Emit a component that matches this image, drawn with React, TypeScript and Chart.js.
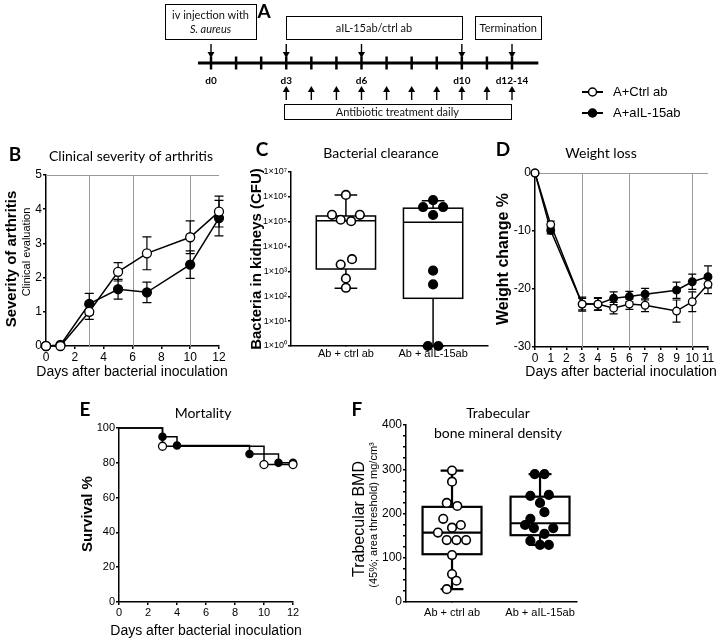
import React, { useEffect, useRef } from 'react';
import { Chart, registerables } from 'chart.js';
Chart.register(...registerables);

const W = 720;
const H = 640;
const SANS = '"Liberation Sans", Arial, sans-serif';

// ---------- Panel A (timeline) ----------
const timelineDays = [0, 1, 2, 3, 4, 5, 6, 7, 8, 9, 10, 11, 12];
const timelineLabels = ['d0', '', '', 'd3', '', '', 'd6', '', '', '', 'd10', '', 'd12-14'];
const downArrowDays = [0, 3, 6, 10, 12];
const antibioticDays = [3, 4, 5, 6, 7, 8, 9, 10, 11, 12];
const legendLabels = ['A+Ctrl ab', 'A+aIL-15ab'];

// ---------- Panel B (clinical severity) ----------
const bDays = [0, 1, 3, 5, 7, 10, 12];
const bCtrl = [0, 0, 1.0, 2.17, 2.71, 3.18, 3.93];
const bCtrlErr = [0, 0, 0.22, 0.27, 0.48, 0.48, 0.45];
const bAil = [0, 0.03, 1.23, 1.66, 1.57, 2.38, 3.74];
const bAilErr = [0, 0, 0.31, 0.29, 0.3, 0.4, 0.52];
const bRefX = [3, 6, 10];
const bRefY = [5];

// ---------- Panel C (bacterial clearance, log) ----------
const cCats = ['Ab + ctrl ab', 'Ab + aIL-15ab'];
const cTicks = [1, 1e1, 1e2, 1e3, 1e4, 1e5, 1e6, 1e7];
const cCtrl = [1.2e6, 1.9e5, 1.2e5, 1.05e5, 1.9e5, 3.1e3, 1.9e3, 5.2e2, 2.2e2];
const cCtrlJitter = [0, -0.16, -0.06, 0.06, 0.16, 0.07, -0.06, 0, 0];
const cAil = [7.4e5, 3.9e5, 3.9e5, 1.86e5, 1.07e3, 3.0e2, 1, 1];
const cAilJitter = [0, -0.115, 0.115, 0, 0, 0, -0.06, 0.06];
const cBoxMin = [2.1e2, 1];
const cBoxQ1 = [1.25e3, 83];
const cBoxMed = [1.1e5, 9.5e4];
const cBoxQ3 = [1.7e5, 3.5e5];
const cBoxMax = [1.2e6, 7.0e5];

// ---------- Panel D (weight loss) ----------
const dDays = [0, 1, 3, 4, 5, 6, 7, 9, 10, 11];
const dCtrl = [0, -8.9, -22.6, -22.6, -23.3, -22.6, -22.8, -23.8, -22.2, -19.2];
const dCtrlErr = [0, 0.6, 1.2, 1.1, 1.0, 0.9, 1.1, 1.9, 1.7, 1.6];
const dAil = [0, -9.9, -22.6, -22.6, -21.6, -21.3, -20.9, -20.2, -18.75, -17.9];
const dAilErr = [0, 0.6, 1.0, 1.0, 1.1, 0.9, 1.0, 1.4, 1.3, 1.9];
const dRefX = [3, 6, 10];
const dRefY = [0];

// ---------- Panel E (mortality, Kaplan-Meier) ----------
const eCtrlDays = [0, 3, 10, 12];
const eCtrlSurv = [100, 89.5, 79, 79];
const eAilDays = [0, 3, 4, 9, 11, 12];
const eAilSurv = [100, 95, 90, 85, 80, 80];

// ---------- Panel F (trabecular BMD) ----------
const fCats = ['Ab + ctrl ab', 'Ab + aIL-15ab'];
const fCtrl = [297, 272, 224, 217, 188, 174, 168, 157, 140, 140, 140, 106, 63, 48, 29];
const fCtrlJitter = [0, 0, -0.06, 0.06, -0.1, 0.1, 0, -0.16, -0.06, 0.05, 0.16, 0, 0, 0.05, -0.06];
const fAil = [289, 289, 240, 242, 224, 203, 188, 174, 167, 167, 154, 138, 129, 129];
const fAilJitter = [-0.06, 0.05, -0.11, 0.1, 0, 0.05, -0.11, -0.17, -0.07, 0.15, 0.05, -0.11, 0, 0.1];
const fBoxMin = [29, 129];
const fBoxQ1 = [108, 151];
const fBoxMed = [157, 178];
const fBoxQ3 = [215, 238];
const fBoxMax = [297, 289];

// ---------- helpers ----------
type Area = { l: number; r: number; t: number; b: number };

function baseOptions(area: Area, yw: number, xh: number, scales: any) {
  return {
    animation: false,
    responsive: false,
    devicePixelRatio: 1,
    events: [],
    layout: { padding: { left: area.l - yw, right: W - area.r, top: area.t, bottom: H - area.b - xh } },
    plugins: { legend: { display: false }, tooltip: { enabled: false }, title: { display: false } },
    scales,
  };
}

function axis(o: any) {
  const ticks: any = {
    color: '#000',
    font: { family: SANS, size: o.fs || 11 },
    padding: o.pad ?? 2,
    autoSkip: false,
    maxRotation: 0,
  };
  if (o.step !== undefined) ticks.stepSize = o.step;
  if (o.cb) ticks.callback = o.cb;
  const a: any = {
    type: o.type || 'linear',
    min: o.min,
    max: o.max,
    ticks,
    grid: { display: true, drawOnChartArea: false, drawTicks: true, tickLength: o.tl ?? 4, color: '#000', lineWidth: 1.5 },
    border: { display: true, color: '#000', width: 1.5 },
    afterFit: (s: any) => {
      if (s.isHorizontal()) s.height = o.size;
      else s.width = o.size;
    },
  };
  if (o.ticksAt) {
    a.afterBuildTicks = (s: any) => {
      s.ticks = o.ticksAt.map((v: number) => ({ value: v }));
    };
  }
  return a;
}

function series(xs: number[], ys: number[], filled: boolean, r: number, extra: any = {}) {
  return {
    data: xs.map((x, i) => ({ x, y: ys[i] })),
    showLine: true,
    borderColor: '#000',
    borderWidth: 1.5,
    pointRadius: r,
    pointBackgroundColor: filled ? '#000' : '#fff',
    pointBorderColor: '#000',
    pointBorderWidth: 1.3,
    clip: false,
    ...extra,
  };
}

function dots(xs: number[], ys: number[], filled: boolean, r: number) {
  return {
    data: xs.map((x, i) => ({ x, y: ys[i] })),
    showLine: false,
    pointRadius: r,
    pointBackgroundColor: filled ? '#000' : '#fff',
    pointBorderColor: '#000',
    pointBorderWidth: 1.6,
    clip: false,
  };
}

function errorBars(list: { xs: number[]; ys: number[]; errs: number[] }[], cap: number) {
  return {
    id: 'errorBars',
    beforeDatasetsDraw(chart: any) {
      const { ctx } = chart;
      const x = chart.scales.x;
      const y = chart.scales.y;
      ctx.save();
      ctx.strokeStyle = '#000';
      ctx.lineWidth = 1.2;
      list.forEach((s) =>
        s.xs.forEach((xv, i) => {
          const e = s.errs[i];
          if (!e) return;
          const px = x.getPixelForValue(xv);
          const top = y.getPixelForValue(s.ys[i] + e);
          const bot = y.getPixelForValue(s.ys[i] - e);
          ctx.beginPath();
          ctx.moveTo(px, top);
          ctx.lineTo(px, bot);
          ctx.moveTo(px - cap, top);
          ctx.lineTo(px + cap, top);
          ctx.moveTo(px - cap, bot);
          ctx.lineTo(px + cap, bot);
          ctx.stroke();
        })
      );
      ctx.restore();
    },
  };
}

function refLines(vx: number[], hy: number[]) {
  return {
    id: 'refLines',
    beforeDatasetsDraw(chart: any) {
      const { ctx, chartArea } = chart;
      const x = chart.scales.x;
      const y = chart.scales.y;
      ctx.save();
      ctx.strokeStyle = '#9a9a9a';
      ctx.lineWidth = 1;
      vx.forEach((v) => {
        const px = Math.round(x.getPixelForValue(v)) + 0.5;
        ctx.beginPath();
        ctx.moveTo(px, chartArea.top);
        ctx.lineTo(px, chartArea.bottom);
        ctx.stroke();
      });
      hy.forEach((v) => {
        const py = Math.round(y.getPixelForValue(v)) + 0.5;
        ctx.beginPath();
        ctx.moveTo(chartArea.left, py);
        ctx.lineTo(chartArea.right, py);
        ctx.stroke();
      });
      ctx.restore();
    },
  };
}

function boxPlot(mins: number[], q1s: number[], meds: number[], q3s: number[], maxs: number[], half: number, capHalf: number, lw: number) {
  return {
    id: 'boxPlot',
    beforeDatasetsDraw(chart: any) {
      const { ctx } = chart;
      const x = chart.scales.x;
      const y = chart.scales.y;
      ctx.save();
      ctx.strokeStyle = '#000';
      ctx.lineWidth = lw;
      mins.forEach((_, i) => {
        const c = i + 1;
        const xl = x.getPixelForValue(c - half);
        const xr = x.getPixelForValue(c + half);
        const xc = x.getPixelForValue(c);
        const cl = x.getPixelForValue(c - capHalf);
        const cr = x.getPixelForValue(c + capHalf);
        const yMin = y.getPixelForValue(mins[i]);
        const yQ1 = y.getPixelForValue(q1s[i]);
        const yMed = y.getPixelForValue(meds[i]);
        const yQ3 = y.getPixelForValue(q3s[i]);
        const yMax = y.getPixelForValue(maxs[i]);
        ctx.beginPath();
        ctx.moveTo(xc, yMax);
        ctx.lineTo(xc, yQ3);
        ctx.moveTo(xc, yQ1);
        ctx.lineTo(xc, yMin);
        ctx.moveTo(cl, yMax);
        ctx.lineTo(cr, yMax);
        ctx.moveTo(cl, yMin);
        ctx.lineTo(cr, yMin);
        ctx.stroke();
        ctx.fillStyle = '#fff';
        ctx.fillRect(xl, yQ3, xr - xl, yQ1 - yQ3);
        ctx.strokeRect(xl, yQ3, xr - xl, yQ1 - yQ3);
        ctx.beginPath();
        ctx.moveTo(xl, yMed);
        ctx.lineTo(xr, yMed);
        ctx.stroke();
      });
      ctx.restore();
    },
  };
}

type T = { t: string; x: number; y: number; f: string; rot?: boolean; a?: CanvasTextAlign };
function texts(items: T[]) {
  return {
    id: 'texts',
    afterDraw(chart: any) {
      const ctx = chart.ctx;
      ctx.save();
      ctx.fillStyle = '#000';
      ctx.textBaseline = 'middle';
      items.forEach((it) => {
        ctx.font = it.f;
        ctx.textAlign = it.a || 'center';
        if (it.rot) {
          ctx.save();
          ctx.translate(it.x, it.y);
          ctx.rotate(-Math.PI / 2);
          ctx.fillText(it.t, 0, 0);
          ctx.restore();
        } else {
          ctx.fillText(it.t, it.x, it.y);
        }
      });
      ctx.restore();
    },
  };
}

const LETTER = 'bold 19px Lato, sans-serif';
const PTITLE = '14px Lato, sans-serif';
const YTITLE = `bold 15px ${SANS}`;
const XTITLE = `14px ${SANS}`;

// ---------- chart configs ----------
function makeA() {
  const area = { l: 211, r: 512, t: 0, b: 640 };
  const timeline = {
    id: 'timeline',
    afterDraw(chart: any) {
      const ctx = chart.ctx;
      const xs = chart.scales.x;
      const X = (d: number) => xs.getPixelForValue(d);
      const lineY = 63;
      ctx.save();
      ctx.strokeStyle = '#000';
      ctx.fillStyle = '#000';
      // main line
      ctx.lineWidth = 3;
      ctx.beginPath();
      ctx.moveTo(X(-0.52), lineY);
      ctx.lineTo(X(13.05), lineY);
      ctx.stroke();
      // ticks + labels
      ctx.lineWidth = 2.5;
      ctx.font = 'bold 10px Lato, sans-serif';
      ctx.textAlign = 'center';
      ctx.textBaseline = 'middle';
      timelineDays.forEach((d, i) => {
        const px = X(d);
        ctx.beginPath();
        ctx.moveTo(px, lineY - 6.5);
        ctx.lineTo(px, lineY + 6.5);
        ctx.stroke();
        if (timelineLabels[i]) ctx.fillText(timelineLabels[i], px, 81);
      });
      // arrows
      const arrow = (px: number, from: number, tip: number) => {
        const dir = tip > from ? 1 : -1;
        ctx.lineWidth = 1.4;
        ctx.beginPath();
        ctx.moveTo(px, from);
        ctx.lineTo(px, tip - dir * 5);
        ctx.stroke();
        ctx.beginPath();
        ctx.moveTo(px - 3.5, tip - dir * 6);
        ctx.lineTo(px + 3.5, tip - dir * 6);
        ctx.lineTo(px, tip);
        ctx.closePath();
        ctx.fill();
      };
      downArrowDays.forEach((d) => arrow(X(d), 44, 58));
      antibioticDays.forEach((d) => arrow(X(d), 100, 86));
      // boxes
      ctx.lineWidth = 1;
      const box = (d0: number, d1: number, y0: number, y1: number) => {
        ctx.strokeRect(Math.round(X(d0)) + 0.5, y0 + 0.5, Math.round(X(d1) - X(d0)), y1 - y0);
      };
      box(-1.83, 1.79, 4, 39);
      box(2.99, 10.0, 16, 39);
      box(10.53, 13.16, 16, 39);
      box(2.91, 11.96, 104, 119);
      ctx.fillStyle = '#111';
      ctx.font = '11px Lato, sans-serif';
      ctx.fillText('iv injection with', X(-0.02), 15);
      ctx.font = 'italic 11px Lato, sans-serif';
      ctx.fillText('S. aureus', X(-0.02), 29);
      ctx.font = '11px Lato, sans-serif';
      ctx.fillText('aIL-15ab/ctrl ab', X(6.5), 28);
      ctx.fillText('Termination', X(11.85), 28);
      ctx.fillText('Antibiotic treatment daily', X(7.43), 112);
      // panel letter
      ctx.fillStyle = '#000';
      ctx.font = LETTER;
      ctx.fillText('A', 264, 12);
      // legend
      legendLabels.forEach((lab, i) => {
        const ly = 92 + i * 21;
        ctx.lineWidth = 2;
        ctx.beginPath();
        ctx.moveTo(582, ly);
        ctx.lineTo(603, ly);
        ctx.stroke();
        ctx.beginPath();
        ctx.arc(592.5, ly, 4, 0, Math.PI * 2);
        ctx.fillStyle = i === 0 ? '#fff' : '#000';
        ctx.fill();
        ctx.lineWidth = 1.5;
        ctx.stroke();
        ctx.fillStyle = '#000';
        ctx.font = `13px ${SANS}`;
        ctx.textAlign = 'left';
        ctx.fillText(lab, 613, ly);
        ctx.textAlign = 'center';
      });
      ctx.restore();
    },
  };
  return {
    type: 'scatter',
    data: { datasets: [] },
    options: {
      ...baseOptions(area, 0, 0, {
        x: { type: 'linear', min: 0, max: 12, display: false },
        y: { type: 'linear', min: 0, max: 1, display: false },
      }),
    },
    plugins: [timeline],
  };
}

function makeB() {
  const area = { l: 46, r: 219, t: 175, b: 346 };
  return {
    type: 'scatter',
    data: {
      datasets: [series(bDays, bCtrl, false, 4.5), series(bDays, bAil, true, 4.5)],
    },
    options: baseOptions(area, 30, 24, {
      x: axis({ min: 0, max: 12, step: 2, fs: 12, size: 24, tl: 3, pad: 1 }),
      y: axis({ min: 0, max: 5, step: 1, fs: 12, size: 30, tl: 3, pad: 1 }),
    }),
    plugins: [
      refLines(bRefX, bRefY),
      errorBars(
        [
          { xs: bDays, ys: bCtrl, errs: bCtrlErr },
          { xs: bDays, ys: bAil, errs: bAilErr },
        ],
        4.5
      ),
      texts([
        { t: 'B', x: 15, y: 155, f: LETTER },
        { t: 'Clinical severity of arthritis', x: 131, y: 156, f: PTITLE },
        { t: 'Severity of arthritis', x: 12, y: 259, f: YTITLE, rot: true },
        { t: 'Clinical evaluation', x: 27, y: 252, f: `11px ${SANS}`, rot: true },
        { t: 'Days after bacterial inoculation', x: 132, y: 372, f: XTITLE },
      ]),
    ],
  };
}

const SUP: Record<string, string> = { '0': '⁰', '1': '¹', '2': '²', '3': '³', '4': '⁴', '5': '⁵', '6': '⁶', '7': '⁷' };

function makeC() {
  const area = { l: 291, r: 488, t: 172, b: 346 };
  return {
    type: 'scatter',
    data: {
      datasets: [
        dots(cCtrl.map((_, i) => 1 + cCtrlJitter[i]), cCtrl, false, 4.3),
        dots(cAil.map((_, i) => 2 + cAilJitter[i]), cAil, true, 4.3),
      ],
    },
    options: baseOptions(area, 40, 22, {
      x: axis({ min: 0.37, max: 2.63, fs: 11, size: 22, tl: 0, pad: 1, ticksAt: [1, 2], cb: (v: number) => cCats[Math.round(v) - 1] }),
      y: axis({
        type: 'logarithmic',
        min: 1,
        max: 1e7,
        fs: 9,
        size: 40,
        tl: 3,
        pad: 1,
        ticksAt: cTicks,
        cb: (v: number) => '1×10' + SUP[String(Math.round(Math.log10(v)))],
      }),
    }),
    plugins: [
      boxPlot(cBoxMin, cBoxQ1, cBoxMed, cBoxQ3, cBoxMax, 0.34, 0.13, 1.5),
      texts([
        { t: 'C', x: 262, y: 150, f: LETTER },
        { t: 'Bacterial clearance', x: 381, y: 153, f: PTITLE },
        { t: 'Bacteria in kidneys (CFU)', x: 257, y: 259, f: YTITLE, rot: true },
      ]),
    ],
  };
}

function makeD() {
  const area = { l: 535, r: 708, t: 173, b: 347 };
  return {
    type: 'scatter',
    data: {
      datasets: [series(dDays, dCtrl, false, 3.8), series(dDays, dAil, true, 3.8)],
    },
    options: baseOptions(area, 30, 24, {
      x: axis({ min: 0, max: 11, step: 1, fs: 12, size: 24, tl: 3, pad: 1 }),
      y: axis({ min: -30, max: 0, step: 10, fs: 12, size: 30, tl: 3, pad: 1 }),
    }),
    plugins: [
      refLines(dRefX, dRefY),
      errorBars(
        [
          { xs: dDays, ys: dCtrl, errs: dCtrlErr },
          { xs: dDays, ys: dAil, errs: dAilErr },
        ],
        4
      ),
      texts([
        { t: 'D', x: 503, y: 150, f: LETTER },
        { t: 'Weight loss', x: 601, y: 153, f: PTITLE },
        { t: 'Weight change %', x: 504, y: 259, f: `bold 16px ${SANS}`, rot: true },
        { t: 'Days after bacterial inoculation', x: 621, y: 372, f: XTITLE },
      ]),
    ],
  };
}

function makeE() {
  const area = { l: 119, r: 293, t: 428, b: 602 };
  const rOpen = eCtrlDays.map((_, i) => (i === 0 ? 0 : 4));
  const rFill = eAilDays.map((_, i) => (i === 0 ? 0 : 3.6));
  return {
    type: 'scatter',
    data: {
      datasets: [
        series(eCtrlDays, eCtrlSurv, false, 4, { stepped: 'before', pointRadius: rOpen }),
        series(eAilDays, eAilSurv, true, 3.6, { stepped: 'before', pointRadius: rFill }),
      ],
    },
    options: baseOptions(area, 34, 22, {
      x: axis({ min: 0, max: 12, step: 2, fs: 11, size: 22, tl: 3, pad: 1 }),
      y: axis({ min: 0, max: 100, step: 20, fs: 11, size: 34, tl: 3, pad: 1 }),
    }),
    plugins: [
      texts([
        { t: 'E', x: 85, y: 410, f: LETTER },
        { t: 'Mortality', x: 203, y: 413, f: PTITLE },
        { t: 'Survival %', x: 88, y: 514, f: YTITLE, rot: true },
        { t: 'Days after bacterial inoculation', x: 206, y: 631, f: XTITLE },
      ]),
    ],
  };
}

function makeF() {
  const area = { l: 406, r: 577, t: 425, b: 602 };
  return {
    type: 'scatter',
    data: {
      datasets: [
        dots(fCtrl.map((_, i) => 1 + fCtrlJitter[i]), fCtrl, false, 4.3),
        dots(fAil.map((_, i) => 2 + fAilJitter[i]), fAil, true, 4.3),
      ],
    },
    options: baseOptions(area, 30, 22, {
      x: axis({ min: 0.477, max: 2.42, fs: 11, size: 22, tl: 0, pad: 4, ticksAt: [1, 2], cb: (v: number) => fCats[Math.round(v) - 1] }),
      y: axis({ min: 0, max: 400, step: 25, fs: 12, size: 30, tl: 3, pad: 1, cb: (v: number) => (v % 100 === 0 ? String(v) : '') }),
    }),
    plugins: [
      boxPlot(fBoxMin, fBoxQ1, fBoxMed, fBoxQ3, fBoxMax, 0.335, 0.13, 2.2),
      texts([
        { t: 'F', x: 357, y: 410, f: LETTER },
        { t: 'Trabecular', x: 498, y: 413, f: PTITLE },
        { t: 'bone mineral density', x: 498, y: 433, f: PTITLE },
        { t: 'Trabecular BMD', x: 360, y: 519, f: `16px ${SANS}`, rot: true },
        { t: '(45%; area threshold) mg/cm³', x: 374, y: 515, f: `11px ${SANS}`, rot: true },
      ]),
    ],
  };
}

function ChartCanvas({ make }: { make: () => any }) {
  const ref = useRef<HTMLCanvasElement>(null);
  useEffect(() => {
    const chart = new Chart(ref.current as HTMLCanvasElement, make());
    return () => chart.destroy();
  }, []);
  return (
    <canvas
      ref={ref}
      width={W}
      height={H}
      style={{ position: 'absolute', left: 0, top: 0, width: W, height: H }}
    />
  );
}

export default function App() {
  return (
    <div style={{ position: 'absolute', left: 0, top: 0, width: W, height: H, background: '#fff', overflow: 'hidden' }}>
      <ChartCanvas make={makeA} />
      <ChartCanvas make={makeB} />
      <ChartCanvas make={makeC} />
      <ChartCanvas make={makeD} />
      <ChartCanvas make={makeE} />
      <ChartCanvas make={makeF} />
    </div>
  );
}
